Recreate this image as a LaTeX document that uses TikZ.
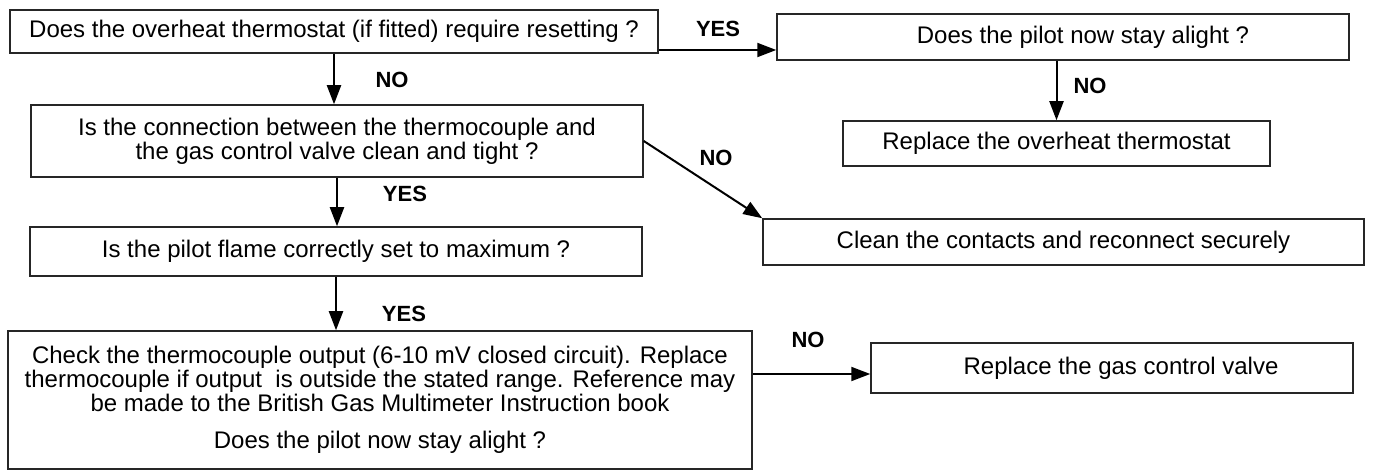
\documentclass[tikz,border=0pt]{standalone}
\usepackage{fontspec}
\setmainfont{Liberation Sans}
\usetikzlibrary{arrows.meta}
\newcommand{\pxu}{0.5pt}

\begin{document}
\begin{tikzpicture}[x=\pxu,y=-\pxu,
    box/.style={draw=black!85,line width=0.75pt,fill=white,inner sep=0pt,align=center,font=\fontsize{12}{12}\selectfont},
    answer/.style={font=\fontsize{11}{11}\selectfont\bfseries},
    flow/.style={line width=1pt,-{Triangle[length=9.5pt,width=7pt]}}
]
\useasboundingbox (0,0) rectangle (1380,475);

% questions on the left
\node[box,minimum width=648*\pxu,minimum height=43*\pxu] (Q1) at (334,31.5) {Does the overheat thermostat (if fitted) require resetting ?};
\node[box,minimum width=612*\pxu,minimum height=72*\pxu] (Q2) at (337,141) {Is the connection between the thermocouple and\\the gas control valve clean and tight ?};
\node[box,minimum width=612*\pxu,minimum height=49*\pxu] (Q3) at (336,251.5) {Is the pilot flame correctly set to maximum ?};
\node[box,minimum width=744*\pxu,minimum height=138*\pxu] (Q4) at (380,400) {Check the thermocouple output (6-10 mV closed circuit). Replace\\thermocouple if output\ \ is outside the stated range. Reference may\\be made to the British Gas Multimeter Instruction book\\[6.5pt]Does the pilot now stay alight ?};

% right column
\node[box,minimum width=572*\pxu,minimum height=46*\pxu] (P1) at (1063,37) {\hspace*{20pt}Does the pilot now stay alight ?};
\node[box,minimum width=427*\pxu,minimum height=45*\pxu] (P2) at (1056.5,143.5) {Replace the overheat thermostat};
\node[box,minimum width=601*\pxu,minimum height=46*\pxu] (R2) at (1063.5,242) {Clean the contacts and reconnect securely};
\node[box,minimum width=482*\pxu,minimum height=50*\pxu] (R3) at (1112,368) {\hspace*{9pt}Replace the gas control valve};

% answers
\node[answer] (y1) at (718,29) {YES};
\node[answer] (n1) at (392,80) {NO};
\node[answer] (n2) at (1090,86) {NO};
\node[answer] (y2) at (405,194) {YES};
\node[answer] (n3) at (716,158) {NO};
\node[answer] (y3) at (404,314) {YES};
\node[answer] (n4) at (808,340) {NO};

\draw[flow] (Q1.south) -- (Q1.south |- Q2.north);
\draw[flow] ([yshift=-9.25pt]Q1.east) -- ([yshift=-9.25pt]Q1.east -| P1.west);
\draw[flow] (P2.north |- P1.south) -- (P2.north);
\draw[flow] (Q2.south) -- (Q2.south |- Q3.north);
\draw[flow] (Q2.east) -- (R2.north west);
\draw[flow] (Q3.south) -- (Q3.south |- Q4.north);
\draw[flow] ([yshift=-3pt]R3.west -| Q4.east) -- ([yshift=-3pt]R3.west);
\end{tikzpicture}
\end{document}
